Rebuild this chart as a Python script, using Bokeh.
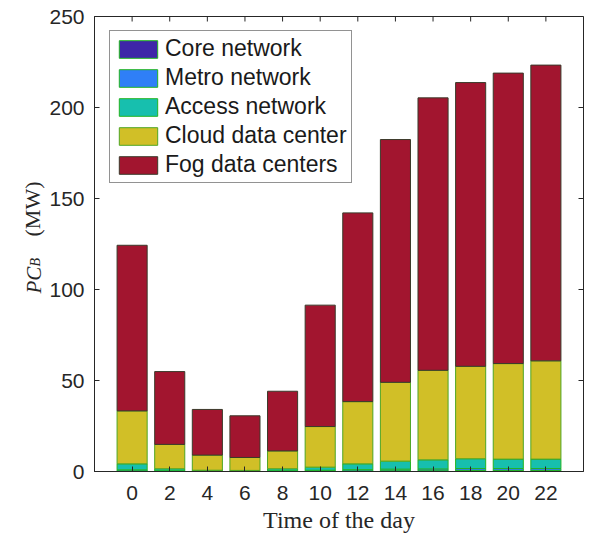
import numpy as np
from bokeh.plotting import figure
from bokeh.layouts import row
from bokeh.models import (ColumnDataSource, FixedTicker, Legend, LegendItem,
                          Label, Range1d)
from bokeh.embed import file_html
from bokeh.resources import INLINE

# ---- data ----
hours = [0, 2, 4, 6, 8, 10, 12, 14, 16, 18, 20, 22]
core = [0.3, 0.1, 0.05, 0.05, 0.1, 0.2, 0.3, 0.4, 0.4, 0.5, 0.5, 0.5]
metro = [0.6, 0.3, 0.15, 0.15, 0.3, 0.5, 0.7, 0.9, 1.0, 1.1, 1.1, 1.1]
access = [3.3, 1.1, 0.5, 0.4, 1.1, 1.7, 3.2, 4.4, 5.0, 5.4, 5.2, 5.2]
cloud = [29.1, 13.4, 8.3, 7.1, 9.8, 22.3, 34.2, 43.3, 49.2, 50.8, 52.5, 54.0]
fog = [91.0, 40.0, 25.1, 22.9, 32.8, 66.7, 103.7, 133.4, 149.7, 155.9, 159.6, 162.5]
series_keys = ["core", "metro", "access", "cloud", "fog"]
series_names = ["Core network", "Metro network", "Access network",
                "Cloud data center", "Fog data centers"]
y_ticks = [0, 50, 100, 150, 200, 250]
x_min, x_max = -2, 24
y_min, y_max = 0, 250

colors = ["#3e26a8", "#2f7ff7", "#17bfae", "#d1bf27", "#a2152f"]
edge_colors = ["#22b422", "#22b422", "#22b422", "#4fa624", "#3a3a2a"]
AX = "#262626"

source = ColumnDataSource(dict(x=hours, core=core, metro=metro, access=access,
                               cloud=cloud, fog=fog))

LAB_W = 46
p = figure(width=586 - LAB_W, height=539, x_range=Range1d(x_min, x_max),
           y_range=Range1d(y_min, y_max),
           output_backend="svg", toolbar_location=None,
           min_border_left=94 - LAB_W, min_border_right=3, min_border_top=16,
           min_border_bottom=68)
p.xgrid.visible = False
p.ygrid.visible = False
p.outline_line_color = AX
p.background_fill_color = "white"

renderers = p.vbar_stack(series_keys, x="x", width=1.6, source=source,
                         fill_color=colors, line_color=edge_colors, line_width=1)

for ax, ticks, stand in ((p.xaxis[0], hours, 14), (p.yaxis[0], y_ticks, 10)):
    ax.ticker = FixedTicker(ticks=ticks)
    ax.major_tick_in = 5
    ax.major_tick_out = 0
    ax.minor_tick_line_color = None
    ax.axis_line_color = AX
    ax.major_tick_line_color = AX
    ax.major_label_text_font = "Liberation Sans"
    ax.major_label_text_font_size = "21px"
    ax.major_label_text_color = AX
    ax.major_label_standoff = stand

p.xaxis.axis_label = "Time of the day"
p.xaxis.axis_label_text_font = "Liberation Serif"
p.xaxis.axis_label_text_font_style = "normal"
p.xaxis.axis_label_text_font_size = "24px"
p.xaxis.axis_label_text_color = AX
p.xaxis.axis_label_standoff = 4

# mirrored inward ticks on the right and top edges (half of each dash is clipped)
p.scatter(x=[x_max] * len(y_ticks), y=y_ticks, marker="dash", size=10,
          line_color=AX, line_width=1)
p.scatter(x=hours, y=[y_max] * len(hours), marker="dash", angle=np.pi / 2,
          size=10, line_color=AX, line_width=1)

legend = Legend(items=[LegendItem(label=n, renderers=[r])
                       for n, r in zip(series_names, renderers)],
                location=(15, 288), margin=0, padding=4, spacing=2,
                glyph_width=48, glyph_height=22, label_height=22, label_standoff=3,
                label_text_font="Liberation Sans", label_text_font_size="23px",
                label_text_color="#1a1a1a", border_line_color=AX,
                border_line_width=1, background_fill_alpha=1.0)
p.add_layout(legend)

# narrow companion figure carrying the y-axis label: PC_B (MW)
# (its frame is aligned with the main frame by the row layout)
lab = figure(width=LAB_W, height=539, x_range=Range1d(0, LAB_W),
             y_range=Range1d(0, 539),
             output_backend="svg", toolbar_location=None, min_border=0,
             x_axis_type=None, y_axis_type=None)
lab.outline_line_color = None
lab.xgrid.visible = False
lab.ygrid.visible = False
common = dict(x_units="screen", y_units="screen", angle=np.pi / 2,
              text_baseline="alphabetic", text_align="left", text_color=AX,
              text_font="Liberation Serif")
lab.add_layout(Label(x=33, y=178, text="PC", text_font_style="italic",
                     text_font_size="21px", **common))
lab.add_layout(Label(x=35, y=205, text="B", text_font_style="italic",
                     text_font_size="14px", **common))
lab.add_layout(Label(x=32, y=235, text="(MW)", text_font_size="22px", **common))

layout = row(lab, p, spacing=0)
open("out.html", "w").write(file_html(layout, INLINE))
